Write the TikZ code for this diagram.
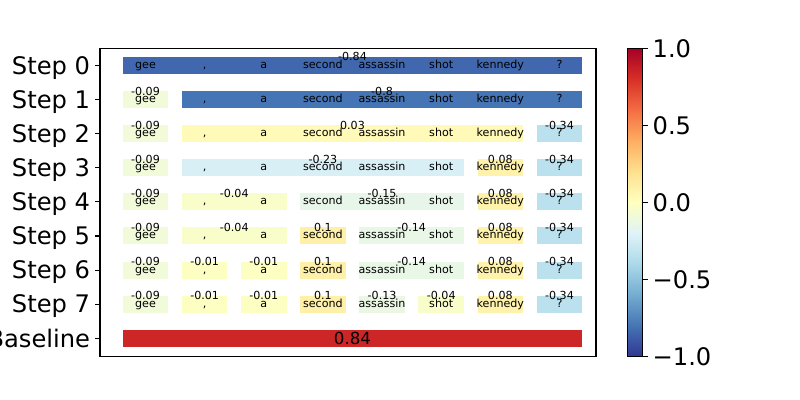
\documentclass[tikz,border=0pt]{standalone}
\usepackage{fontspec}
\setmainfont{DejaVu Sans}
% colormap stops (RdYlBu reversed)
\definecolor{s0}{RGB}{49,54,149}
\definecolor{s1}{RGB}{69,117,180}
\definecolor{s2}{RGB}{116,173,209}
\definecolor{s3}{RGB}{171,217,233}
\definecolor{s4}{RGB}{224,243,248}
\definecolor{s5}{RGB}{255,255,191}
\definecolor{s6}{RGB}{254,224,144}
\definecolor{s7}{RGB}{253,174,97}
\definecolor{s8}{RGB}{244,109,67}
\definecolor{s9}{RGB}{215,48,39}
\definecolor{s10}{RGB}{165,0,38}
% value colours
\definecolor{cm84}{RGB}{65,104,174}
\definecolor{cm80}{RGB}{69,117,180}
\definecolor{cm09}{RGB}{241,250,217}
\definecolor{cp03}{RGB}{255,250,184}
\definecolor{cm34}{RGB}{187,225,238}
\definecolor{cm23}{RGB}{216,239,246}
\definecolor{cp08}{RGB}{255,243,172}
\definecolor{cm04}{RGB}{249,253,202}
\definecolor{cm15}{RGB}{232,246,234}
\definecolor{cp10}{RGB}{254,240,168}
\definecolor{cm14}{RGB}{233,247,231}
\definecolor{cm01}{RGB}{253,254,194}
\definecolor{cm13}{RGB}{235,247,228}
\definecolor{cp84}{RGB}{205,38,39}
\tikzset{
  toklab/.style={anchor=base, inner sep=0pt, font=\fontsize{8}{9.6}\selectfont},
  vallab/.style={anchor=base, inner sep=0pt, font=\fontsize{8}{9.6}\selectfont},
  bigval/.style={anchor=base, inner sep=0pt, font=\fontsize{12}{14}\selectfont},
  ticklab/.style={inner sep=0pt, font=\fontsize{17.4}{20}\selectfont},
  frame/.style={line width=0.8pt},
}
\newcommand\segbar[5]{%
  \pgfmathsetmacro\xl{145.5+59.14*#2-22.75}%
  \pgfmathsetmacro\xr{145.5+59.14*#3+22.75}%
  \pgfmathsetmacro\yc{65.5+34.1*#1}%
  \pgfmathsetmacro\xc{(\xl+\xr)/2}%
  \fill[#4] (\xl,\yc-8.5) rectangle (\xr,\yc+8.5);
  \node[vallab] (v-#1-#2) at (\xc,\yc-4.5) {#5};
}
\begin{document}
\begin{tikzpicture}[x={(0.72pt,0)}, y={(0,-0.72pt)}]
\useasboundingbox (0,0) rectangle (800,400);
% row 0
\segbar{0}{0}{7}{cm84}{-0.84}
% row 1
\segbar{1}{0}{0}{cm09}{-0.09}
\segbar{1}{1}{7}{cm80}{-0.8}
% row 2
\segbar{2}{0}{0}{cm09}{-0.09}
\segbar{2}{1}{6}{cp03}{0.03}
\segbar{2}{7}{7}{cm34}{-0.34}
% row 3
\segbar{3}{0}{0}{cm09}{-0.09}
\segbar{3}{1}{5}{cm23}{-0.23}
\segbar{3}{6}{6}{cp08}{0.08}
\segbar{3}{7}{7}{cm34}{-0.34}
% row 4
\segbar{4}{0}{0}{cm09}{-0.09}
\segbar{4}{1}{2}{cm04}{-0.04}
\segbar{4}{3}{5}{cm15}{-0.15}
\segbar{4}{6}{6}{cp08}{0.08}
\segbar{4}{7}{7}{cm34}{-0.34}
% row 5
\segbar{5}{0}{0}{cm09}{-0.09}
\segbar{5}{1}{2}{cm04}{-0.04}
\segbar{5}{3}{3}{cp10}{0.1}
\segbar{5}{4}{5}{cm14}{-0.14}
\segbar{5}{6}{6}{cp08}{0.08}
\segbar{5}{7}{7}{cm34}{-0.34}
% row 6
\segbar{6}{0}{0}{cm09}{-0.09}
\segbar{6}{1}{1}{cm01}{-0.01}
\segbar{6}{2}{2}{cm01}{-0.01}
\segbar{6}{3}{3}{cp10}{0.1}
\segbar{6}{4}{5}{cm14}{-0.14}
\segbar{6}{6}{6}{cp08}{0.08}
\segbar{6}{7}{7}{cm34}{-0.34}
% row 7
\segbar{7}{0}{0}{cm09}{-0.09}
\segbar{7}{1}{1}{cm01}{-0.01}
\segbar{7}{2}{2}{cm01}{-0.01}
\segbar{7}{3}{3}{cp10}{0.1}
\segbar{7}{4}{4}{cm13}{-0.13}
\segbar{7}{5}{5}{cm04}{-0.04}
\segbar{7}{6}{6}{cp08}{0.08}
\segbar{7}{7}{7}{cm34}{-0.34}
% baseline
\fill[cp84] (122.75,329.8) rectangle (582.25,346.8);
\node[bigval] (basev) at (352.5,344.4) {0.84};
% token texts
\foreach \r in {0,...,7}{
  \foreach \t [count=\i from 0] in {gee,{,},a,second,assassin,shot,kennedy,?}{
    \node[toklab] (tok-\r-\i) at ({145.5+59.14*\i},{65.5+34.1*\r+3}) {\t};
  }
}
% axes frame
\draw[frame] (100,48.3) rectangle (596,356.3);
% y ticks and labels
\foreach \lab [count=\r from 0] in {Step 0,Step 1,Step 2,Step 3,Step 4,Step 5,Step 6,Step 7,Baseline}{
  \draw[frame] (100,{65.5+34.1*\r}) -- (95.14,{65.5+34.1*\r});
  \node[ticklab, anchor=base east] (yl-\r) at (90.3,{65.5+34.1*\r+8.8}) {\lab};
}
% colorbar
\foreach \k [evaluate=\k as \kk using int(\k+1)] in {0,...,9}{
  \shade[bottom color=s\k, top color=s\kk] (627.3,{356.3-30.8*\k+0.2}) rectangle (642.7,{356.3-30.8*(\k+1)-0.2});
}
\draw[frame] (627.3,48.3) rectangle (642.7,356.3);
\foreach \v/\lab [count=\j from 0] in {-1/−1.0,-0.5/−0.5,0/0.0,0.5/0.5,1/1.0}{
  \draw[frame] (642.7,{356.3-(\v+1)/2*308}) -- (647.56,{356.3-(\v+1)/2*308});
  \node[ticklab, anchor=base west] (cb-\j) at (652.4,{356.3-(\v+1)/2*308+8.8}) {\lab};
}
\end{tikzpicture}
\end{document}
